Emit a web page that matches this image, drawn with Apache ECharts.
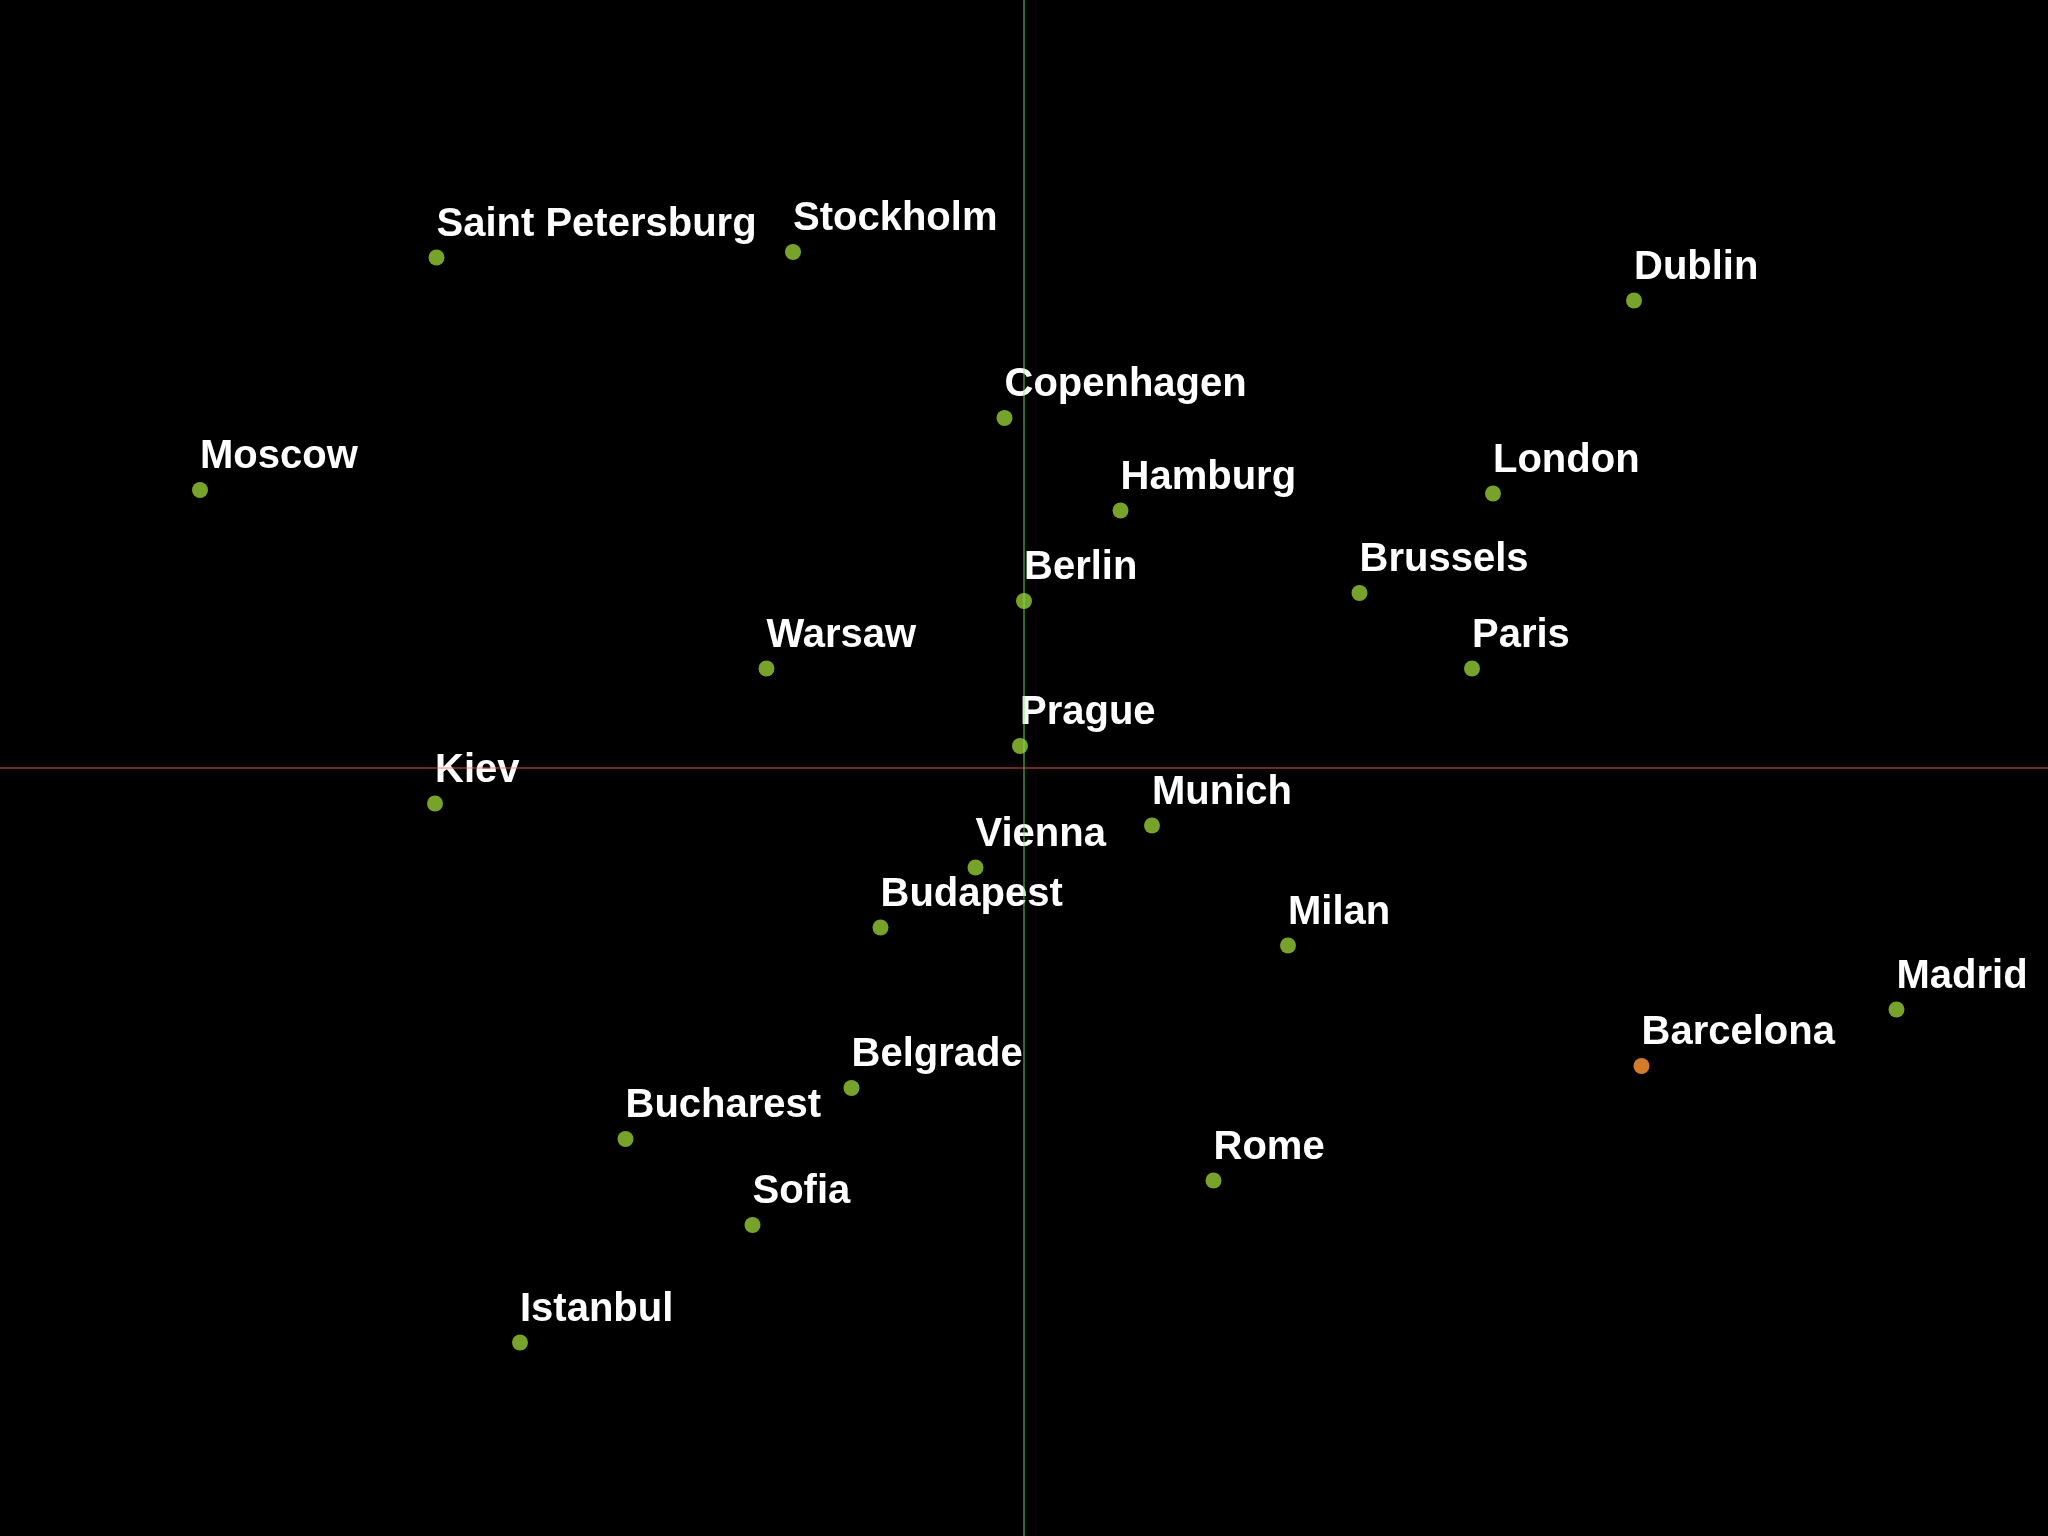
<!DOCTYPE html>
<html>
<head>
<meta charset="utf-8">
<style>
  html, body { margin: 0; padding: 0; background: #000; }
  #chart { width: 2048px; height: 1536px; }
</style>
<script src="https://cdn.jsdelivr.net/npm/echarts@6/dist/echarts.min.js"></script>
</head>
<body>
<div id="chart"></div>
<script>
// MDS-like coordinates of European cities (arbitrary units, ~km)
const cities = ["Saint Petersburg","Stockholm","Dublin","Copenhagen","Moscow","Hamburg","London","Brussels","Berlin","Warsaw","Paris","Prague","Kiev","Munich","Vienna","Budapest","Milan","Madrid","Barcelona","Belgrade","Bucharest","Rome","Sofia","Istanbul"];
const xValues = [-1175,-462,1220,-39,-1648,193,938,671,0,-515,896,-8,-1178,256,-97,-287,528,1745,1235,-345,-797,379,-543,-1008];
const yValues = [1021,1032,935,700,556,515,549,350,334,199,199,44,-71,-115,-199,-319,-355,-483,-596,-640,-742,-825,-914,-1149];
const highlighted = ["Barcelona"];

const xRange = [-2048, 2048];
const yRange = [-1536, 1536];

const chart = echarts.init(document.getElementById('chart'));

const data = cities.map((c, i) => {
  const d = { name: c, value: [xValues[i], yValues[i]] };
  if (highlighted.includes(c)) d.itemStyle = { color: '#d27b2a', opacity: 1 };
  return d;
});

chart.setOption({
  backgroundColor: '#000000',
  animation: false,
  grid: { left: 0, right: 0, top: 0, bottom: 0, containLabel: false },
  xAxis: {
    type: 'value', min: xRange[0], max: xRange[1],
    splitLine: { show: false }, axisTick: { show: false }, axisLabel: { show: false },
    axisLine: { show: false }
  },
  yAxis: {
    type: 'value', min: yRange[0], max: yRange[1],
    splitLine: { show: false }, axisTick: { show: false }, axisLabel: { show: false },
    axisLine: { show: false }
  },
  series: [{
    type: 'scatter',
    symbol: 'circle',
    symbolSize: 16,
    itemStyle: { color: '#77a32a', opacity: 1 },
    data: data,
    label: {
      show: true,
      formatter: '{b}',
      position: 'top',
      align: 'left',
      distance: 5,
      color: '#ffffff',
      opacity: 1,
      fontFamily: '"Liberation Sans", Helvetica, Arial, sans-serif',
      fontWeight: 'bold',
      fontSize: 40
    },
    z: 2
  }, {
    type: 'scatter',
    data: [],
    silent: true,
    z: 10,
    markLine: {
      silent: true,
      symbol: 'none',
      label: { show: false },
      animation: false,
      data: [
        { xAxis: 0, lineStyle: { color: 'rgba(110,235,90,0.6)', width: 1.5, type: 'solid', opacity: 1 } },
        { yAxis: 0, lineStyle: { color: 'rgba(255,105,105,0.55)', width: 1.5, type: 'solid', opacity: 1 } }
      ]
    }
  }]
});
</script>
</body>
</html>
